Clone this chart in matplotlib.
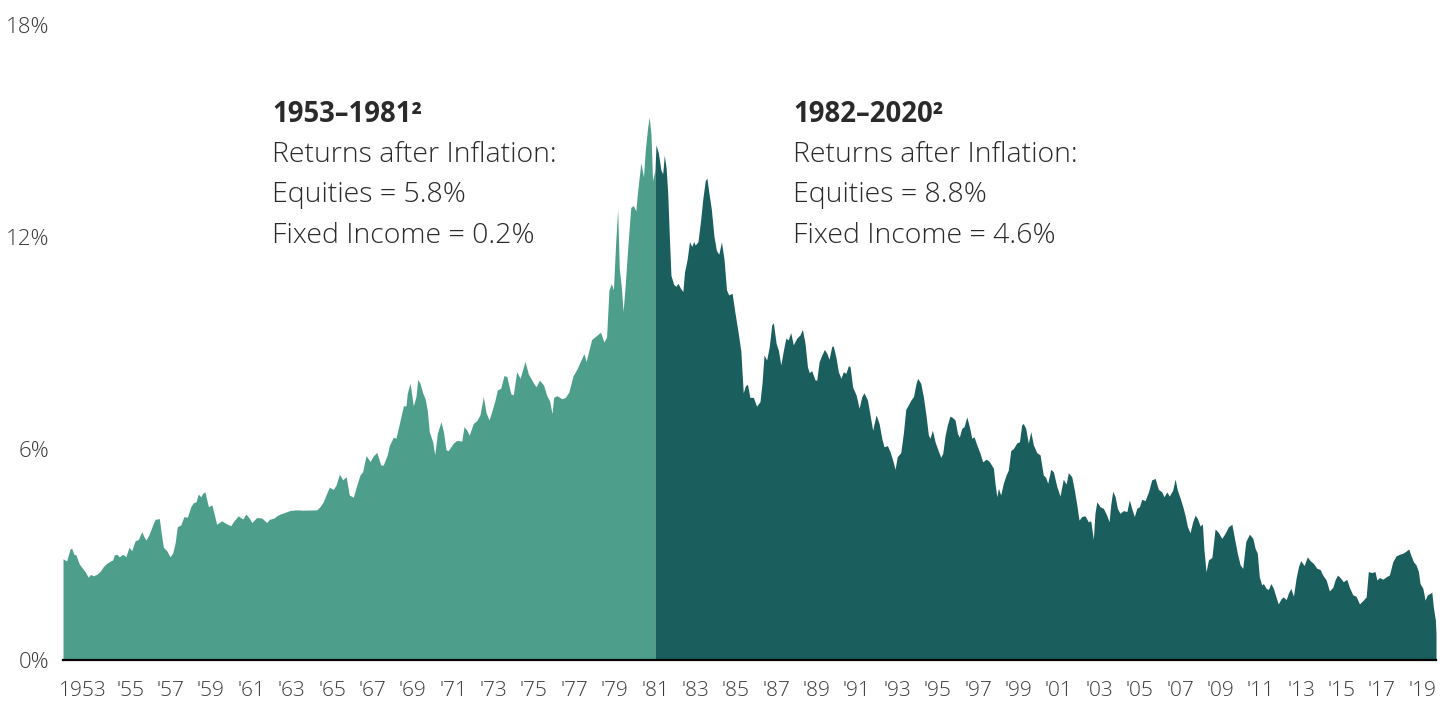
import matplotlib.pyplot as plt
import matplotlib.transforms as mtransforms

# yield level (%), split at the start of 1982
dates_1953_1981 = [
    1952.68, 1952.86, 1953.03, 1953.11, 1953.22, 1953.32, 1953.49, 1953.61, 1953.77, 1953.93,
    1954.05, 1954.18, 1954.35, 1954.51, 1954.68, 1954.84, 1955.01, 1955.14, 1955.22, 1955.34,
    1955.47, 1955.64, 1955.79, 1955.95, 1956.08, 1956.25, 1956.41, 1956.58, 1956.69, 1956.79,
    1956.95, 1957.12, 1957.24, 1957.45, 1957.57, 1957.65, 1957.82, 1957.98, 1958.11, 1958.23,
    1958.34, 1958.51, 1958.67, 1958.84, 1959.01, 1959.13, 1959.27, 1959.38, 1959.50, 1959.60,
    1959.71, 1959.88, 1960.05, 1960.16, 1960.29, 1960.54, 1960.79, 1960.99, 1961.15, 1961.36,
    1961.58, 1961.74, 1961.91, 1962.03, 1962.27, 1962.52, 1962.77, 1962.90, 1963.10, 1963.27,
    1963.43, 1963.68, 1963.92, 1964.26, 1964.58, 1965.25, 1965.41, 1965.57, 1965.74, 1965.87,
    1966.07, 1966.20, 1966.37, 1966.53, 1966.70, 1966.86, 1967.06, 1967.23, 1967.39, 1967.52,
    1967.69, 1967.89, 1968.05, 1968.22, 1968.42, 1968.54, 1968.74, 1968.84, 1969.04, 1969.17,
    1969.34, 1969.54, 1969.67, 1969.73, 1969.87, 1970.03, 1970.16, 1970.25, 1970.36, 1970.50,
    1970.61, 1970.72, 1970.82, 1970.99, 1971.09, 1971.22, 1971.40, 1971.52, 1971.65, 1971.76,
    1972.01, 1972.18, 1972.43, 1972.54, 1972.68, 1972.80, 1973.00, 1973.17, 1973.33, 1973.50,
    1973.63, 1973.78, 1973.91, 1974.08, 1974.19, 1974.36, 1974.52, 1974.66, 1974.86, 1974.98,
    1975.15, 1975.32, 1975.56, 1975.73, 1975.98, 1976.11, 1976.28, 1976.48, 1976.64, 1976.78,
    1976.90, 1976.98, 1977.14, 1977.39, 1977.56, 1977.73, 1977.94, 1978.14, 1978.34, 1978.48,
    1978.59, 1978.72, 1978.86, 1979.01, 1979.30, 1979.47, 1979.60, 1979.72, 1979.84, 1979.94,
    1980.05, 1980.15, 1980.23, 1980.33, 1980.42, 1980.52, 1980.64, 1980.80, 1980.93, 1981.05,
    1981.13, 1981.30, 1981.43, 1981.52, 1981.63, 1981.71, 1981.80, 1981.88, 1982.00,
]
yield_1953_1981 = [
    2.87, 2.81, 3.15, 3.17, 3.00, 2.98, 2.72, 2.63, 2.51, 2.35,
    2.43, 2.39, 2.43, 2.51, 2.65, 2.74, 2.80, 2.84, 2.98, 3.00,
    2.93, 3.00, 2.93, 3.20, 3.10, 3.38, 3.42, 3.64, 3.50, 3.40,
    3.57, 3.83, 3.99, 4.01, 3.50, 3.20, 3.10, 2.93, 3.03, 3.31,
    3.78, 3.83, 4.07, 4.05, 4.35, 4.46, 4.49, 4.71, 4.63, 4.73,
    4.77, 4.35, 4.40, 4.16, 3.85, 3.95, 3.86, 3.81, 3.95, 4.09,
    4.00, 4.14, 4.02, 3.90, 4.04, 4.03, 3.90, 3.99, 4.02, 4.09,
    4.14, 4.19, 4.24, 4.26, 4.25, 4.26, 4.35, 4.49, 4.73, 4.90,
    4.84, 4.96, 5.27, 5.11, 5.20, 4.68, 4.62, 4.96, 5.25, 5.34,
    5.80, 5.63, 5.79, 5.89, 5.53, 5.53, 5.82, 6.08, 6.32, 6.29,
    6.71, 7.21, 7.21, 7.57, 7.85, 7.21, 7.47, 7.96, 7.85, 7.57,
    7.42, 7.09, 6.48, 6.19, 5.82, 6.43, 6.76, 6.48, 5.96, 5.94,
    6.15, 6.23, 6.21, 6.62, 6.52, 6.38, 6.71, 6.79, 6.95, 7.47,
    7.02, 6.81, 7.04, 7.38, 7.66, 7.71, 8.07, 8.04, 7.55, 7.52,
    8.18, 7.99, 8.47, 8.11, 7.86, 7.75, 7.94, 7.80, 7.50, 7.35,
    6.99, 7.45, 7.50, 7.41, 7.45, 7.60, 8.06, 8.26, 8.52, 8.69,
    8.47, 8.77, 9.09, 9.16, 9.30, 9.02, 9.16, 10.50, 10.68, 10.50,
    11.82, 12.79, 11.11, 10.60, 9.89, 10.60, 11.62, 12.84, 12.89, 12.74,
    13.25, 14.11, 13.70, 14.47, 15.08, 15.40, 14.92, 13.60, 13.90,
]

dates_1982_2020 = [
    1982.00, 1982.05, 1982.17, 1982.29, 1982.38, 1982.46, 1982.55, 1982.63, 1982.71, 1982.79,
    1982.93, 1983.04, 1983.13, 1983.26, 1983.38, 1983.46, 1983.59, 1983.71, 1983.82, 1983.92,
    1983.99, 1984.13, 1984.26, 1984.37, 1984.49, 1984.57, 1984.67, 1984.79, 1984.92, 1985.04,
    1985.16, 1985.29, 1985.42, 1985.54, 1985.65, 1985.82, 1985.95, 1986.12, 1986.25, 1986.37,
    1986.48, 1986.58, 1986.70, 1986.87, 1987.03, 1987.20, 1987.30, 1987.40, 1987.53, 1987.66,
    1987.78, 1987.86, 1988.00, 1988.11, 1988.23, 1988.36, 1988.48, 1988.60, 1988.72, 1988.85,
    1989.02, 1989.18, 1989.30, 1989.43, 1989.55, 1989.64, 1989.76, 1989.93, 1990.01, 1990.13,
    1990.26, 1990.39, 1990.51, 1990.62, 1990.75, 1990.83, 1990.97, 1991.08, 1991.21, 1991.33,
    1991.45, 1991.58, 1991.66, 1991.79, 1991.96, 1992.11, 1992.24, 1992.35, 1992.52, 1992.65,
    1992.78, 1992.95, 1993.10, 1993.23, 1993.34, 1993.51, 1993.64, 1993.78, 1993.89, 1994.00,
    1994.17, 1994.30, 1994.42, 1994.55, 1994.68, 1994.80, 1994.93, 1995.01, 1995.16, 1995.29,
    1995.42, 1995.54, 1995.62, 1995.74, 1995.87, 1996.00, 1996.15, 1996.25, 1996.37, 1996.48,
    1996.61, 1996.73, 1996.86, 1996.98, 1997.07, 1997.19, 1997.31, 1997.44, 1997.57, 1997.69,
    1997.80, 1997.94, 1998.10, 1998.23, 1998.40, 1998.56, 1998.76, 1998.84, 1998.93, 1999.01,
    1999.12, 1999.25, 1999.39, 1999.50, 1999.62, 1999.75, 1999.92, 2000.05, 2000.16, 2000.24,
    2000.36, 2000.49, 2000.61, 2000.74, 2000.91, 2001.07, 2001.23, 2001.35, 2001.45, 2001.60,
    2001.73, 2001.90, 2002.06, 2002.22, 2002.36, 2002.47, 2002.64, 2002.77, 2002.89, 2003.00,
    2003.14, 2003.30, 2003.46, 2003.58, 2003.71, 2003.79, 2003.88, 2004.04, 2004.21, 2004.37,
    2004.49, 2004.57, 2004.67, 2004.79, 2004.90, 2005.03, 2005.20, 2005.37, 2005.49, 2005.61,
    2005.74, 2005.86, 2005.99, 2006.11, 2006.27, 2006.44, 2006.60, 2006.77, 2006.93, 2007.10,
    2007.21, 2007.35, 2007.47, 2007.64, 2007.76, 2007.87, 2008.01, 2008.14, 2008.25, 2008.37,
    2008.50, 2008.63, 2008.75, 2008.86, 2009.00, 2009.11, 2009.19, 2009.29, 2009.41, 2009.58,
    2009.74, 2009.90, 2010.07, 2010.23, 2010.40, 2010.57, 2010.73, 2010.84, 2010.98, 2011.11,
    2011.26, 2011.44, 2011.61, 2011.72, 2011.83, 2011.93, 2012.05, 2012.13, 2012.27, 2012.38,
    2012.50, 2012.63, 2012.76, 2012.87, 2013.01, 2013.12, 2013.26, 2013.37, 2013.49, 2013.62,
    2013.75, 2013.87, 2013.98, 2014.15, 2014.31, 2014.44, 2014.61, 2014.78, 2014.94, 2015.07,
    2015.24, 2015.40, 2015.57, 2015.68, 2015.80, 2015.93, 2016.09, 2016.26, 2016.39, 2016.56,
    2016.72, 2016.89, 2017.08, 2017.22, 2017.33, 2017.50, 2017.66, 2017.75, 2017.88, 2018.05,
    2018.21, 2018.37, 2018.54, 2018.70, 2018.87, 2019.04, 2019.20, 2019.33, 2019.43, 2019.56,
    2019.69, 2019.81, 2019.89, 2020.03, 2020.14, 2020.25, 2020.39, 2020.47, 2020.55, 2020.65,
    2020.68,
]
yield_1982_2020 = [
    13.90, 14.62, 14.37, 13.91, 13.79, 14.32, 13.96, 13.25, 12.02, 10.91,
    10.65, 10.60, 10.69, 10.55, 10.45, 11.00, 11.36, 11.87, 11.73, 11.87,
    11.77, 11.87, 12.48, 13.10, 13.60, 13.67, 13.25, 12.79, 12.02, 11.62,
    11.51, 11.86, 11.36, 10.50, 10.36, 10.40, 9.89, 9.28, 8.77, 7.58,
    7.78, 7.82, 7.45, 7.45, 7.20, 7.33, 7.85, 8.65, 8.51, 8.89,
    9.50, 9.57, 8.98, 8.79, 8.37, 8.79, 9.13, 9.08, 9.29, 8.94,
    9.13, 9.22, 9.38, 8.98, 8.32, 8.15, 8.21, 7.94, 7.94, 8.46,
    8.65, 8.81, 8.70, 8.53, 8.89, 8.91, 8.56, 8.18, 7.99, 8.18,
    8.13, 8.35, 8.32, 7.74, 7.52, 7.14, 7.47, 7.58, 7.38, 6.95,
    6.52, 6.95, 6.71, 6.29, 6.05, 6.08, 5.91, 5.65, 5.41, 5.77,
    5.88, 6.43, 7.11, 7.24, 7.38, 7.47, 7.85, 7.99, 7.85, 7.47,
    6.95, 6.38, 6.29, 6.52, 6.19, 5.98, 5.75, 5.86, 6.38, 6.67,
    6.92, 6.88, 6.81, 6.43, 6.32, 6.57, 6.62, 6.90, 6.62, 6.29,
    6.33, 6.10, 5.86, 5.62, 5.70, 5.63, 5.44, 5.01, 4.63, 4.87,
    4.68, 5.01, 5.25, 5.39, 5.94, 6.00, 6.16, 6.19, 6.67, 6.71,
    6.57, 6.15, 6.48, 6.10, 5.88, 5.82, 5.25, 5.18, 5.01, 5.41,
    5.34, 4.92, 4.65, 5.13, 4.99, 5.31, 5.20, 4.82, 4.40, 3.97,
    4.07, 4.09, 3.92, 3.95, 3.42, 4.16, 4.49, 4.35, 4.30, 4.11,
    3.92, 4.40, 4.79, 4.63, 4.30, 4.16, 4.24, 4.21, 4.54, 4.30,
    4.07, 4.30, 4.35, 4.56, 4.52, 4.77, 5.11, 5.15, 4.84, 4.77,
    4.63, 4.77, 4.65, 4.82, 5.13, 4.82, 4.59, 4.35, 4.11, 3.78,
    3.61, 3.92, 4.11, 4.02, 3.80, 3.86, 3.12, 2.50, 2.84, 2.91,
    3.72, 3.62, 3.45, 3.59, 3.78, 3.85, 3.36, 3.03, 2.70, 2.60,
    3.36, 3.57, 3.45, 3.17, 3.03, 2.36, 2.13, 2.17, 2.03, 2.00,
    2.17, 2.03, 1.78, 1.59, 1.74, 1.79, 1.71, 1.90, 2.03, 1.81,
    2.32, 2.65, 2.82, 2.68, 2.93, 2.82, 2.74, 2.60, 2.57, 2.41,
    2.27, 1.96, 2.06, 2.27, 2.41, 2.34, 2.22, 2.29, 2.06, 1.85,
    1.81, 1.59, 1.70, 1.79, 2.51, 2.48, 2.51, 2.27, 2.34, 2.29,
    2.36, 2.41, 2.79, 2.95, 3.00, 3.03, 3.09, 3.15, 2.98, 2.79,
    2.70, 2.51, 2.17, 2.03, 1.70, 1.85, 1.89, 1.93, 1.50, 1.13,
    0.75,
]

label_years = list(range(1953, 2020, 2))
y_ticks = [0, 6, 12, 18]

light = '#4d9f8c'
dark = '#1b5e5e'
txt = '#2a2a2a'

plt.rcParams['font.family'] = ['Open Sans', 'DejaVu Sans']

fig = plt.figure(figsize=(14.5, 7.02), dpi=100)
ax = fig.add_axes([0.04345, 0.0598, 0.94689, 0.9039])

ax.fill_between(dates_1953_1981, yield_1953_1981, 0, color=light, lw=0)
ax.fill_between(dates_1982_2020, yield_1982_2020, 0, color=dark, lw=0)

ax.set_xlim(1952.68, 2020.68)
ax.set_ylim(0, 18)

ax.set_yticks(y_ticks)
ax.set_yticklabels([f'{v}%' for v in y_ticks])

# labels sit at the end of each labelled year
xt = [1952.68] + [y + 1 for y in label_years[1:]]
xl = ['1953'] + ["'" + str(y)[2:] for y in label_years[1:]]
ax.set_xticks(xt)
ax.set_xticklabels(xl)

ax.tick_params(axis='both', length=0, colors='#3a3a3a')
ax.tick_params(axis='y', pad=10, labelsize=16)
ax.tick_params(axis='x', pad=15, labelsize=15)
for lab in ax.get_xticklabels() + ax.get_yticklabels():
    lab.set_fontweight('light')

first = ax.get_xticklabels()[0]
first.set_ha('left')
first.set_transform(first.get_transform() +
                    mtransforms.ScaledTranslation(-4 / 100, 0, fig.dpi_scale_trans))

for s in ['top', 'right', 'left']:
    ax.spines[s].set_visible(False)
ax.spines['bottom'].set_color('black')
ax.spines['bottom'].set_linewidth(1.6)
ax.set_facecolor('white')
ax.grid(False)

blocks = [
    (272, '1953–1981²', ['Returns after Inflation:', 'Equities = 5.8%', 'Fixed Income = 0.2%']),
    (793, '1982–2020²', ['Returns after Inflation:', 'Equities = 8.8%', 'Fixed Income = 4.6%']),
]
rows = [114, 155, 195, 236]
for x, head, lines in blocks:
    fig.text(x / 1450, 1 - rows[0] / 702, head, fontsize=19.8, fontweight='bold',
             color=txt, va='center', ha='left')
    for r, line in zip(rows[1:], lines):
        fig.text(x / 1450, 1 - r / 702, line, fontsize=20.5, fontweight='light',
                 color=txt, va='center', ha='left')

fig.savefig('out.png', dpi=100, facecolor='white')
